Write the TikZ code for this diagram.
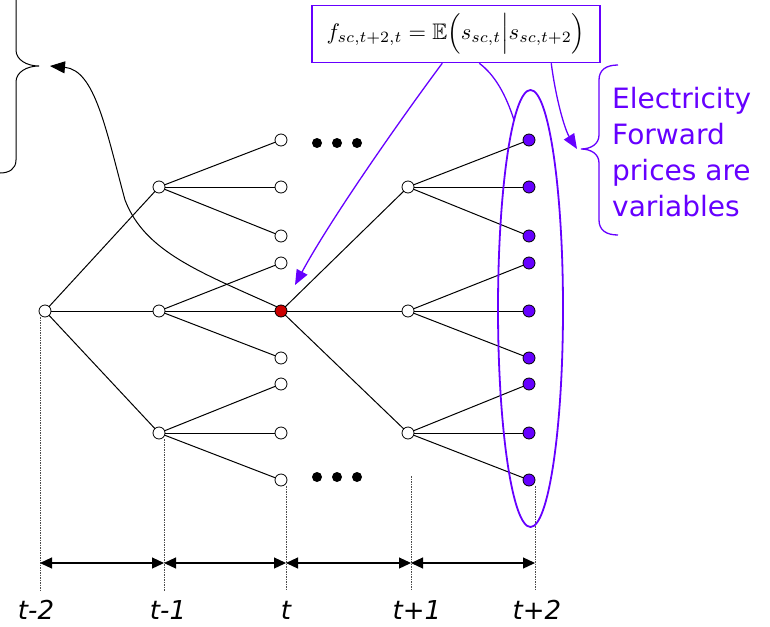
\documentclass[tikz,border=0pt]{standalone}
\usepackage{fontspec}
\usepackage{amsmath,amssymb}
\usepackage{graphicx}
\usetikzlibrary{arrows.meta,shapes.geometric}
\newfontfamily\vfont{DejaVu Sans}
\definecolor{vio}{RGB}{102,0,255}
\definecolor{nodered}{RGB}{204,0,0}
\tikzset{
  tnode/.style={circle, draw=black, fill=white, minimum size=12pt, inner sep=0pt, outer sep=0pt, line width=0.8pt},
  leaf/.style={tnode, fill=vio},
  cur/.style={tnode, fill=nodered},
  edge/.style={line width=1pt},
  guide/.style={dash pattern=on 1.5pt off 1pt, line width=0.6pt, black!70},
  spanarrow/.style={{Triangle[length=12pt,width=11pt]}-{Triangle[length=12pt,width=11pt]}, line width=1.2pt},
  tlabel/.style={font=\vfont\itshape\fontsize{26}{30}\selectfont, anchor=base, inner sep=0pt},
  ellipsisdot/.style={fill=black},
  vioarrow/.style={draw=vio, line width=1.3pt, -{Triangle[length=15pt,width=12pt]}},
  violine/.style={draw=vio, line width=1.3pt},
}
\begin{document}
\begin{tikzpicture}[x=1pt, y=-1pt]
\useasboundingbox (0,0) rectangle (770,626);
\clip (0,0) rectangle (770,626);

% ---- tree nodes ----
\node[tnode] (r) at (45,311) {};
\node[tnode] (a1) at (159,187) {};
\node[tnode] (a2) at (159,311) {};
\node[tnode] (a3) at (159,433) {};
\node[tnode] (b1) at (281,140) {};
\node[tnode] (b2) at (281,187) {};
\node[tnode] (b3) at (281,236) {};
\node[tnode] (b4) at (281,263) {};
\node[cur]   (b5) at (281,311) {};
\node[tnode] (b6) at (281,358) {};
\node[tnode] (b7) at (281,384) {};
\node[tnode] (b8) at (281,433) {};
\node[tnode] (b9) at (281,480) {};
\node[tnode] (c1) at (408,187) {};
\node[tnode] (c2) at (408,311) {};
\node[tnode] (c3) at (408,433) {};
\node[leaf] (d1) at (529,140) {};
\node[leaf] (d2) at (529,187) {};
\node[leaf] (d3) at (529,236) {};
\node[leaf] (d4) at (529,263) {};
\node[leaf] (d5) at (529,311) {};
\node[leaf] (d6) at (529,358) {};
\node[leaf] (d7) at (529,384) {};
\node[leaf] (d8) at (529,433) {};
\node[leaf] (d9) at (529,480) {};

% ---- tree edges ----
\foreach \p/\c in {r/a1, r/a2, r/a3,
  a1/b1, a1/b2, a1/b3, a2/b4, a2/b5, a2/b6, a3/b7, a3/b8, a3/b9,
  b5/c1, b5/c2, b5/c3,
  c1/d1, c1/d2, c1/d3, c2/d4, c2/d5, c2/d6, c3/d7, c3/d8, c3/d9}
  \draw[edge] (\p) -- (\c);

% ---- ellipsis dots ----
\foreach \x in {317,337,357} {
  \fill[ellipsisdot] (\x,143) circle (5);
  \fill[ellipsisdot] (\x,477) circle (5);
}

% ---- time axis ----
\coordinate (g0) at (40,317);
\coordinate (g1) at (164,439);
\coordinate (g2) at (286,486);
\coordinate (g3) at (411,476);
\coordinate (g4) at (535,486);
\foreach \i in {0,...,4} {
  \coordinate (h\i) at (g\i |- 0,591);
  \coordinate (m\i) at (g\i |- 0,563);
  \draw[guide] (g\i) -- (h\i);
}
\draw[spanarrow] (m0) -- (m1);
\draw[spanarrow] (m1) -- (m2);
\draw[spanarrow] (m2) -- (m3);
\draw[spanarrow] (m3) -- (m4);
\node[tlabel] (l0) at (36,619) {t-2};
\node[tlabel] (l1) at (168,619) {t-1};
\node[tlabel] (l2) at (286,619) {t};
\node[tlabel] (l3) at (417,619) {t+1};
\node[tlabel] (l4) at (537,619) {t+2};

% ---- left brace and black curved arrow ----
\coordinate (lbtip) at (39,66);
\draw[line width=1pt] (16,-20) -- (16,50) .. controls (16,60) and (27,66) .. (lbtip)
  .. controls (27,66) and (16,72) .. (16,82) -- (16,160) .. controls (16,169) and (9,173) .. (0,173);
\draw[line width=1pt, -{Triangle[length=15pt,width=12pt]}]
  (b5.north west) .. controls (200,272) and (145,252) .. (125,200)
  .. controls (106,130) and (95,70) .. ([xshift=11pt]lbtip);

% ---- ellipse around t+2 nodes ----
\node[ellipse, draw=vio, line width=1.8pt, minimum width=65pt, minimum height=437pt, inner sep=0pt, outer sep=0pt] (ell) at (530.5,308.5) {};

% ---- formula box ----
\node[draw=vio, line width=1.5pt, fill=white, minimum width=288pt, minimum height=57pt, inner sep=0pt] (formula) at (456,34)
  {\scalebox{2.25}{$f_{sc,t+2,t}=\mathbb{E}\Big(s_{sc,t}\Big|s_{sc,t+2}\Big)$}};

% ---- right brace and text ----
\coordinate (rbtip) at (581,149);
\draw[vio, line width=1.3pt] (618,65) .. controls (606,65) and (599,70) .. (599,80) -- (599,135)
  .. controls (599,144) and (591,149) .. (rbtip)
  .. controls (591,149) and (599,154) .. (599,163) -- (599,220)
  .. controls (599,230) and (606,235) .. (618,235);
\node[anchor=north west, inner sep=0pt, align=left, text=vio, font=\vfont\fontsize{28}{36}\selectfont] (txt) at (612,87)
  {Electricity\\Forward\\prices are\\variables};

% ---- purple connectors ----
\draw[vioarrow] ([xshift=131pt]formula.south west) .. controls (400,120) and (330,220) .. ([shift={(14,-26)}]b5.center);
\draw[violine] ([xshift=168pt]formula.south west) .. controls (495,75) and (506,95) .. (ell.95.5);
\draw[vioarrow] ([xshift=240pt]formula.south west) .. controls (556,100) and (565,130) .. ([xshift=-4pt]rbtip);
\end{tikzpicture}
\end{document}
